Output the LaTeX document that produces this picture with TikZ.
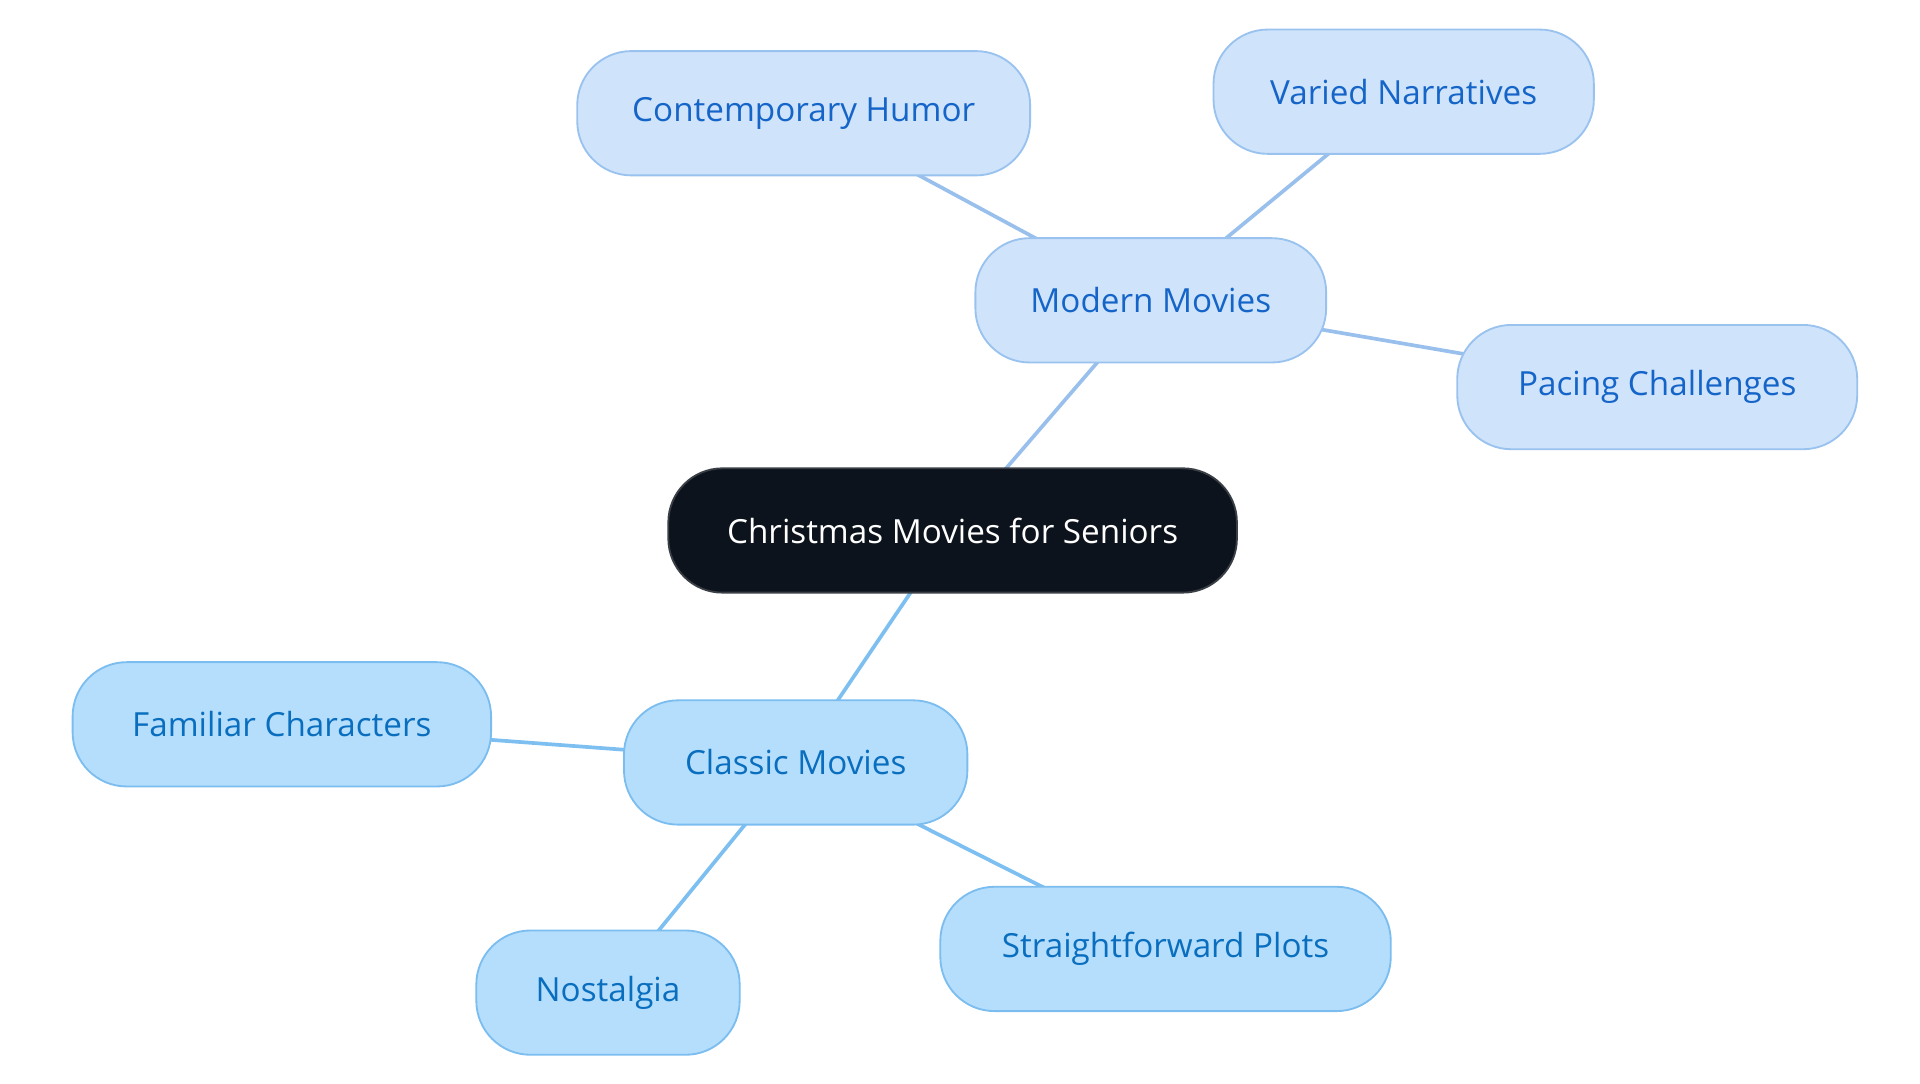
\documentclass[tikz,border=0pt]{standalone}
\usepackage{fontspec}
\setmainfont{Open Sans}
\usetikzlibrary{backgrounds}
\definecolor{rootfill}{HTML}{0D131C}
\definecolor{rootdraw}{HTML}{3A3F46}
\definecolor{modfill}{HTML}{CFE3FB}
\definecolor{moddraw}{HTML}{99C2EF}
\definecolor{modtext}{HTML}{1565C8}
\definecolor{modline}{HTML}{99C0EC}
\definecolor{clsfill}{HTML}{B5DEFD}
\definecolor{clsdraw}{HTML}{7CBDF0}
\definecolor{clstext}{HTML}{0A6EBF}
\definecolor{clsline}{HTML}{7DBFF0}
\tikzset{
  pill/.style={rectangle, rounded corners=22pt, minimum height=50.5pt, line width=0.75pt, inner sep=0pt, font=\fontsize{13.5}{16}\selectfont},
  rootnode/.style={pill, fill=rootfill, draw=rootdraw, text=white},
  modnode/.style={pill, fill=modfill, draw=moddraw, text=modtext},
  clsnode/.style={pill, fill=clsfill, draw=clsdraw, text=clstext},
  modedge/.style={draw=modline, line width=1.5pt},
  clsedge/.style={draw=clsline, line width=1.5pt}
}
\begin{document}
\begin{tikzpicture}[x=0.5pt,y=-0.5pt]
\useasboundingbox (0,0) rectangle (1560,880);
\node[rootnode, minimum width=231pt] (root) at (774,431) {Christmas Movies for Seniors};
\node[modnode, minimum width=142.5pt] (modern) at (935,244) {Modern Movies};
\node[modnode, minimum width=184pt] (humor) at (653,92) {Contemporary Humor};
\node[modnode, minimum width=154.5pt] (varied) at (1140.5,74.5) {Varied Narratives};
\node[modnode, minimum width=162.5pt] (pacing) at (1346.5,314.5) {Pacing Challenges};
\node[clsnode, minimum width=139.5pt] (classic) at (646.5,619.5) {Classic Movies};
\node[clsnode, minimum width=170pt] (familiar) at (229,588.5) {Familiar Characters};
\node[clsnode, minimum width=107pt] (nostalgia) at (494,806.5) {Nostalgia};
\node[clsnode, minimum width=183pt] (plots) at (947,771) {Straightforward Plots};
\begin{scope}[on background layer]
\draw[modedge] (root.center) -- (modern.center);
\draw[modedge] (modern.center) -- (humor.center);
\draw[modedge] (modern.center) -- (varied.center);
\draw[modedge] (modern.center) -- (pacing.center);
\draw[clsedge] (root.center) -- (classic.center);
\draw[clsedge] (classic.center) -- (familiar.center);
\draw[clsedge] (classic.center) -- (nostalgia.center);
\draw[clsedge] (classic.center) -- (plots.center);
\end{scope}
\end{tikzpicture}
\end{document}
